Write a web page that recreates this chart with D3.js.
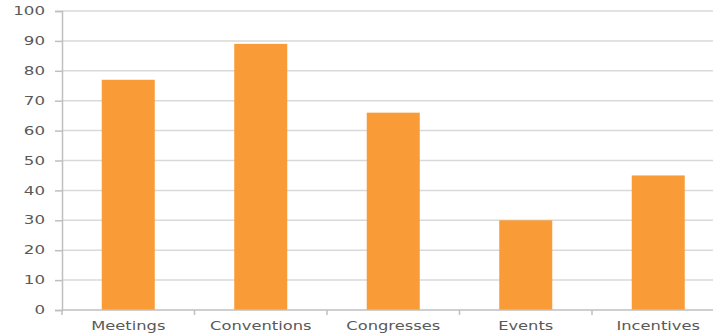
<!DOCTYPE html>
<html>
<head>
<meta charset="utf-8">
<script src="https://cdn.jsdelivr.net/npm/d3@7"></script>
<style>
  html, body { margin: 0; padding: 0; background: #fff; }
  svg { display: block; }
  text { font-family: "DejaVu Sans", "Liberation Sans", sans-serif; fill: #595959; }
</style>
</head>
<body>
<svg id="chart" width="713" height="336"></svg>
<script>
// Category names, values and axis ticks
const categories = ["Meetings", "Conventions", "Congresses", "Events", "Incentives"];
const values = [77, 89, 66, 30, 45];
const yTicks = [0, 10, 20, 30, 40, 50, 60, 70, 80, 90, 100];

const svg = d3.select("#chart");
const plotLeft = 62, plotRight = 724.5, plotTop = 11, plotBottom = 310;
const stretchX = 1.36;   // wide, stretched label lettering

const x = d3.scaleBand()
  .domain(categories)
  .range([plotLeft, plotRight])
  .paddingInner(0.6)
  .paddingOuter(0.3);

const y = d3.scaleLinear().domain([0, 100]).range([plotBottom, plotTop]);

// horizontal gridlines
svg.append("g")
  .selectAll("line")
  .data(yTicks.filter(d => d > 0))
  .join("line")
  .attr("x1", plotLeft).attr("x2", 713)
  .attr("y1", d => y(d)).attr("y2", d => y(d))
  .attr("stroke", "#d9d9d9").attr("stroke-width", 1.5);

// y axis
const yAxis = svg.append("g")
  .attr("transform", `translate(${plotLeft},0)`)
  .call(d3.axisLeft(y).tickValues(yTicks).tickSize(7).tickPadding(10));
yAxis.select(".domain").attr("stroke", "#bfbfbf").attr("stroke-width", 1.5);
yAxis.selectAll(".tick line").attr("stroke", "#bfbfbf").attr("stroke-width", 1.5);
yAxis.selectAll(".tick text")
  .attr("x", 0)
  .attr("transform", "translate(-17,0) scale(1.45,1)")
  .attr("font-size", 11.5)
  .attr("fill", "#595959")
  .attr("font-family", "'DejaVu Sans', 'Liberation Sans', sans-serif");

// bars
svg.append("g")
  .selectAll("rect")
  .data(values)
  .join("rect")
  .attr("x", (d, i) => x(categories[i]))
  .attr("width", x.bandwidth())
  .attr("y", d => y(d))
  .attr("height", d => y(0) - y(d))
  .attr("fill", "#f99b36");

// x axis with boundary ticks between categories
svg.append("line")
  .attr("x1", plotLeft).attr("x2", 713)
  .attr("y1", plotBottom).attr("y2", plotBottom)
  .attr("stroke", "#bfbfbf").attr("stroke-width", 1.5);

const step = x.step();
svg.append("g")
  .selectAll("line")
  .data(d3.range(categories.length + 1))
  .join("line")
  .attr("x1", i => plotLeft + i * step).attr("x2", i => plotLeft + i * step)
  .attr("y1", plotBottom).attr("y2", plotBottom + 5)
  .attr("stroke", "#bfbfbf").attr("stroke-width", 1.5);

svg.append("g")
  .selectAll("text")
  .data(categories)
  .join("text")
  .attr("transform", d => `translate(${x(d) + x.bandwidth() / 2},330) scale(${stretchX},1)`)
  .attr("text-anchor", "middle")
  .attr("font-size", 12)
  .attr("fill", "#505050")
  .text(d => d);
</script>
</body>
</html>
